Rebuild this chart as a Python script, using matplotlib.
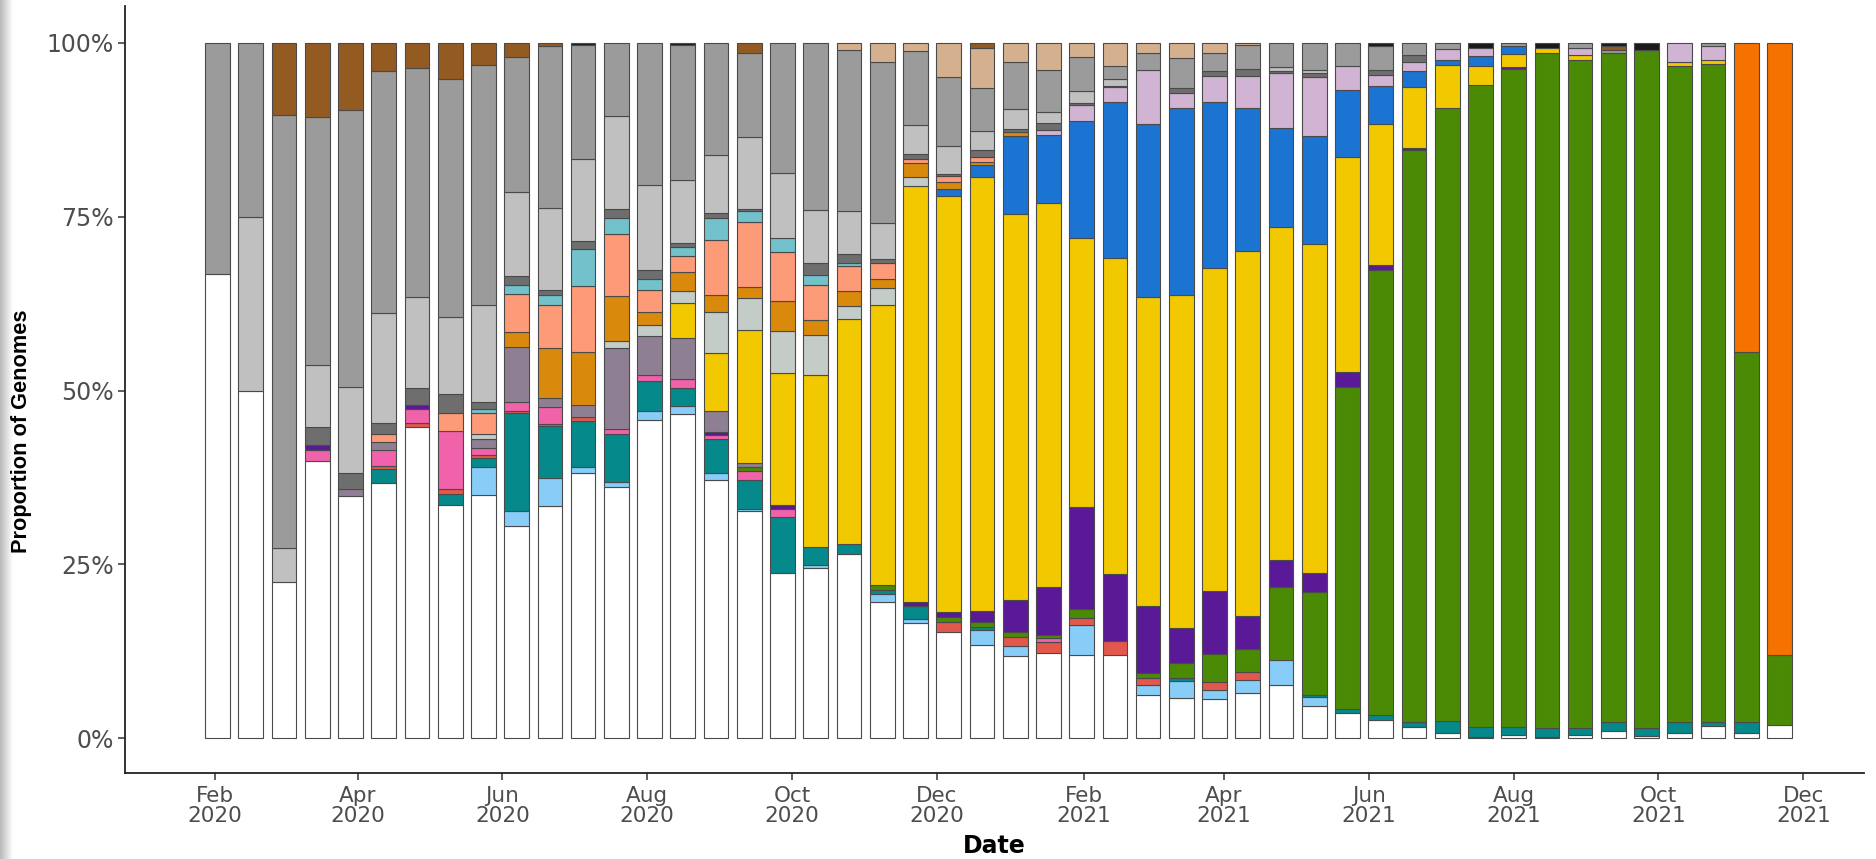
import matplotlib
matplotlib.use("Agg")
import matplotlib.pyplot as plt
import matplotlib.dates as mdates
import numpy as np
import pandas as pd

# Biweekly collection bins (bar centres)
bin_dates = pd.date_range("2020-02-02", periods=48, freq="14D")

# Lineage groups, drawn bottom to top, with their fill colours
groups = ["other", "lb", "teal", "red", "pink", "green", "purple", "mauve",
          "yellow", "blue", "sage", "dkorange", "salmon", "ltteal", "lavender",
          "dkgray", "ltgray", "gray", "tan", "brown", "black", "orange"]
colors = ["#ffffff", "#87cdf7", "#06898b", "#e2584c", "#f062aa", "#4a8a04",
          "#5a1a98", "#8f7f93", "#f2c800", "#1c74d2", "#c3ccc7", "#d98a0c",
          "#fd9a78", "#72c1cb", "#d1b3d3", "#6e6e6e", "#c0c0c0", "#9b9b9b",
          "#d4b08e", "#935a22", "#1a1a1a", "#f57200"]

# Percent of genomes per bin for each group
other = [66.7, 50, 22.4, 39.8, 34.8, 36.7, 44.8, 33.5, 34.8, 30.4, 33.4, 38.0,
         36.2, 45.7, 46.7, 37.2, 32.6, 23.7, 24.5, 26.6, 19.6, 16.7, 15.3, 13.4,
         11.7, 12.3, 11.9, 11.9, 6.2, 5.7, 5.7, 6.5, 7.6, 4.7, 3.7, 2.6,
         1.6, 0.7, 0.2, 0.5, 0.2, 0.4, 1.1, 0.3, 0.7, 1.7, 0.7, 1.9]
lb = [0, 0, 0, 0, 0, 0, 0, 0, 4.0, 2.2, 4.0, 0.8, 0.7, 1.3, 1.2, 0.9, 0.4, 0,
      0.4, 0, 1.2, 0.5, 0, 2.1, 1.4, 0, 4.4, 0, 1.5, 2.5, 1.3, 1.9, 3.7, 1.2,
      0, 0, 0, 0, 0, 0, 0, 0, 0, 0, 0, 0, 0, 0]
teal = [0, 0, 0, 0, 0, 2.0, 0, 1.5, 1.3, 14.1, 7.5, 6.6, 7.0, 4.4, 2.6, 5.0,
        4.1, 8.0, 2.6, 1.4, 0.5, 1.9, 0, 0.5, 0, 0, 0, 0, 0, 0.4, 0, 0, 0, 0.3,
        0.5, 0.7, 0.7, 1.8, 1.4, 1.1, 1.2, 1.0, 1.2, 1.1, 1.6, 0.6, 1.6, 0]
red = [0, 0, 0, 0, 0, 0.4, 0.5, 0.7, 0.4, 0.3, 0.3, 0.6, 0, 0, 0, 0, 0, 0, 0,
       0, 0, 0, 1.4, 0, 1.4, 1.6, 1.0, 2.1, 0.9, 0, 1.1, 1.1, 0, 0, 0, 0, 0, 0,
       0, 0, 0, 0, 0, 0, 0, 0, 0, 0]
pink = [0, 0, 0, 1.6, 0, 2.3, 2.0, 8.4, 1.1, 1.2, 2.4, 0, 0.7, 0.8, 1.3, 0.5,
        1.3, 1.2, 0, 0, 0, 0, 0, 0, 0, 0.5, 0, 0, 0, 0, 0, 0, 0, 0, 0, 0, 0, 0,
        0, 0, 0, 0, 0, 0, 0, 0, 0, 0]
green = [0, 0, 0, 0, 0, 0, 0, 0, 0, 0, 0, 0, 0, 0, 0, 0, 0.6, 0, 0, 0, 0.7, 0,
         0.7, 0.7, 0.6, 0.5, 1.2, 0, 0.8, 2.1, 4.0, 3.3, 10.4, 14.9, 46.3, 64.5,
         82.3, 88.1, 92.4, 94.6, 97.1, 96.2, 96.2, 97.6, 94.3, 94.6, 53.2, 10.0]
purple = [0, 0, 0, 0.8, 0, 0, 0.6, 0, 0, 0, 0, 0, 0, 0, 0, 0.5, 0, 0.6, 0, 0,
          0, 0.5, 0.7, 1.5, 4.6, 6.8, 14.7, 9.6, 9.6, 5.1, 9.0, 4.8, 3.9, 2.6,
          2.1, 0.7, 0.3, 0, 0, 0.3, 0, 0, 0, 0, 0, 0, 0, 0]
mauve = [0, 0, 0, 0, 1.0, 1.2, 0, 0, 1.2, 7.9, 1.3, 1.7, 11.7, 5.6, 6.0, 2.9,
         0.6, 0, 0, 0, 0, 0, 0, 0, 0, 0, 0, 0, 0, 0, 0, 0, 0, 0, 0, 0, 0, 0, 0,
         0, 0, 0, 0, 0, 0, 0, 0, 0]
yellow = [0, 0, 0, 0, 0, 0, 0, 0, 0, 0, 0, 0, 0, 0, 5.0, 8.4, 19.0, 18.9, 24.7,
          32.4, 40.3, 60.2, 59.9, 62.2, 55.2, 55.2, 38.6, 45.4, 44.3, 47.6,
          46.4, 52.6, 47.9, 47.4, 31.0, 20.4, 8.8, 6.2, 2.7, 1.9, 0.8, 0.7, 0,
          0, 0.6, 0.7, 0, 0]
blue = [0, 0, 0, 0, 0, 0, 0, 0, 0, 0, 0, 0, 0, 0, 0, 0, 0, 0, 0, 0, 0, 0, 1.0,
        1.7, 11.1, 9.8, 16.8, 22.5, 24.7, 26.7, 23.9, 20.5, 14.1, 15.5, 9.6,
        5.5, 2.3, 0.8, 1.4, 1.2, 0, 0, 0, 0, 0, 0, 0, 0]
sage = [0, 0, 0, 0, 0, 0, 0, 0, 0.8, 0, 0, 0, 0.9, 1.6, 1.7, 5.9, 4.7, 6.1, 5.8,
        2.0, 2.5, 1.2, 0, 0, 0, 0, 0, 0, 0, 0, 0, 0, 0, 0, 0, 0, 0, 0, 0, 0, 0,
        0, 0, 0, 0, 0, 0, 0]
dkorange = [0, 0, 0, 0, 0, 0, 0, 0, 0, 2.2, 7.2, 7.6, 6.5, 1.9, 2.7, 2.4, 1.5,
            4.2, 2.2, 2.1, 1.2, 2.0, 1.0, 0.4, 0.5, 0, 0, 0, 0, 0, 0, 0, 0, 0,
            0, 0, 0, 0, 0, 0, 0, 0, 0, 0, 0, 0, 0, 0]
salmon = [0, 0, 0, 0, 0, 1.2, 0, 2.6, 3.0, 5.5, 6.2, 9.4, 8.9, 3.2, 2.3, 8.0,
          9.3, 7.1, 5.0, 3.6, 2.3, 0.6, 0.8, 0.8, 0, 0, 0, 0, 0, 0, 0, 0, 0, 0,
          0, 0, 0, 0, 0, 0, 0, 0, 0, 0, 0, 0, 0, 0]
ltteal = [0, 0, 0, 0, 0, 0, 0, 0, 0.5, 1.2, 1.4, 5.3, 2.4, 1.6, 1.3, 3.1, 1.6,
          2.0, 1.4, 0.5, 0, 0, 0, 0, 0, 0, 0, 0, 0, 0, 0, 0, 0, 0, 0, 0, 0, 0,
          0, 0, 0, 0, 0, 0, 0, 0, 0, 0]
lavender = [0, 0, 0, 0, 0, 0, 0, 0, 0, 0, 0, 0, 0, 0, 0, 0, 0, 0, 0, 0, 0, 0,
            0, 0, 0, 0.8, 2.3, 2.1, 7.8, 2.2, 3.7, 4.7, 7.9, 8.5, 3.4, 1.6, 1.2,
            1.5, 1.2, 0, 0, 1.0, 0, 0, 2.7, 1.9, 0, 0]
dkgray = [0, 0, 0, 2.5, 2.4, 1.5, 2.4, 2.6, 1.1, 1.4, 0.8, 1.2, 1.2, 1.2, 0.6,
          0.7, 0.4, 0, 1.7, 1.3, 0.6, 0.7, 0.4, 1.0, 0.5, 1.0, 0.2, 0.2, 0, 0.7,
          0.8, 1.0, 0.4, 0.5, 0, 0.7, 1.0, 0, 0, 0, 0, 0, 0, 0, 0, 0, 0, 0]
ltgray = [0, 25, 4.9, 9.0, 12.3, 15.8, 13.1, 11.1, 13.9, 12.0, 11.7, 11.7, 13.4,
          12.3, 9.1, 8.4, 10.3, 9.3, 7.6, 6.2, 5.2, 4.2, 3.9, 2.7, 2.9, 1.5, 1.8,
          1.0, 0, 0, 0, 0, 0.6, 0.5, 0, 0, 0, 0, 0, 0, 0, 0, 0, 0, 0, 0, 0, 0]
gray = [33.3, 25, 62.3, 35.7, 39.9, 34.9, 33.0, 34.1, 34.3, 19.4, 23.3, 16.3,
        10.6, 20.4, 19.5, 16.1, 12.0, 18.7, 24.1, 23.2, 23.2, 10.7, 10.0, 6.1,
        6.7, 6.1, 4.8, 1.9, 2.4, 4.3, 2.6, 3.4, 3.4, 3.9, 3.4, 3.4, 1.8, 0.9, 0,
        0.4, 0, 0.7, 0.5, 0, 0, 0.5, 0, 0]
tan = [0, 0, 0, 0, 0, 0, 0, 0, 0, 0, 0, 0, 0, 0, 0, 0, 0, 0, 0, 1.0, 2.7, 1.2,
       4.9, 5.8, 2.7, 3.9, 2.1, 3.3, 1.5, 2.1, 1.4, 0.3, 0, 0, 0, 0, 0, 0, 0, 0,
       0, 0, 0, 0, 0, 0, 0, 0]
brown = [0, 0, 10.4, 10.6, 9.6, 4.0, 3.6, 5.2, 3.2, 2.0, 0.5, 0, 0, 0, 0, 0,
         1.5, 0, 0, 0, 0, 0, 0, 0.7, 0, 0, 0, 0, 0, 0, 0, 0, 0, 0, 0, 0, 0, 0,
         0, 0, 0, 0, 0.5, 0, 0, 0, 0, 0]
black = [0, 0, 0, 0, 0, 0, 0, 0, 0, 0, 0, 0.3, 0, 0, 0.3, 0, 0, 0, 0, 0, 0, 0,
         0, 0, 0, 0, 0, 0, 0, 0, 0, 0, 0, 0, 0, 0.5, 0, 0, 0.7, 0, 0.7, 0, 0.5,
         1.0, 0, 0, 0, 0]
orange = [0, 0, 0, 0, 0, 0, 0, 0, 0, 0, 0, 0, 0, 0, 0, 0, 0, 0, 0, 0, 0, 0, 0,
          0, 0, 0, 0, 0, 0, 0, 0, 0, 0, 0, 0, 0, 0, 0, 0, 0, 0, 0, 0, 0, 0, 0,
          44.5, 88.1]

series = [other, lb, teal, red, pink, green, purple, mauve, yellow, blue, sage,
          dkorange, salmon, ltteal, lavender, dkgray, ltgray, gray, tan, brown,
          black, orange]

tick_dates = pd.date_range("2020-02-01", "2021-12-01", freq="2MS")
tick_labels = [d.strftime("%b\n%Y") for d in tick_dates]
y_ticks = [0, 25, 50, 75, 100]
y_labels = ["0%", "25%", "50%", "75%", "100%"]

W, H = 1876, 859
fig = plt.figure(figsize=(W / 100, H / 100), dpi=100)
fig.patch.set_facecolor("white")

# soft grey band along the left edge
band = fig.add_axes([0, 0, 12 / W, 1])
grad = np.linspace(0.0, 1.0, 64)[None, :]
band.imshow(grad, cmap=matplotlib.colors.LinearSegmentedColormap.from_list(
    "edge", ["#b9b9b9", "#ffffff"]), aspect="auto", extent=[0, 1, 0, 1])
band.set_axis_off()

ax = fig.add_axes([125 / W, 1 - 773 / H, (1864 - 125) / W, (773 - 6) / H])

x = mdates.date2num(bin_dates.to_pydatetime())
data = np.array(series, dtype=float)
data = data / data.sum(axis=0) * 100.0  # each bin scaled to 100%
bottom = np.zeros(len(x))
for vals, col in zip(data, colors):
    keep = vals > 0
    ax.bar(x[keep], vals[keep], bottom=bottom[keep], width=10.4, color=col,
           edgecolor="#4a4a4a", linewidth=0.8, align="center")
    bottom += vals

ax.set_ylim(-5, 105.3)
ax.set_xlim(mdates.date2num(pd.Timestamp("2019-12-25")),
            mdates.date2num(pd.Timestamp("2021-12-26 14:00")))

ax.set_yticks(y_ticks)
ax.set_yticklabels(y_labels, fontsize=17)
ax.set_xticks(mdates.date2num(tick_dates.to_pydatetime()))
ax.set_xticklabels(tick_labels, linespacing=1.05, fontsize=15.5)

for s in ["top", "right"]:
    ax.spines[s].set_visible(False)
for s in ["left", "bottom"]:
    ax.spines[s].set_linewidth(1.3)
    ax.spines[s].set_color("#222222")

ax.tick_params(axis="both", length=5, width=1.1, color="#333333",
               labelcolor="#4d4d4d")
ax.tick_params(axis="y", pad=3)
ax.tick_params(axis="x", pad=4)

ax.set_ylabel("Proportion of Genomes", fontsize=15.7, fontweight="bold",
              family=["Liberation Sans", "DejaVu Sans"])
ax.yaxis.label.set_va("center")
ax.yaxis.set_label_coords((21.5 - 125) / (1864 - 125), (773 - 431) / 767)

ax.set_xlabel("Date", fontsize=17, fontweight="bold")
ax.xaxis.label.set_va("center")
ax.xaxis.set_label_coords(0.5, (773 - 846) / 767)

fig.savefig("out.png", dpi=100)
